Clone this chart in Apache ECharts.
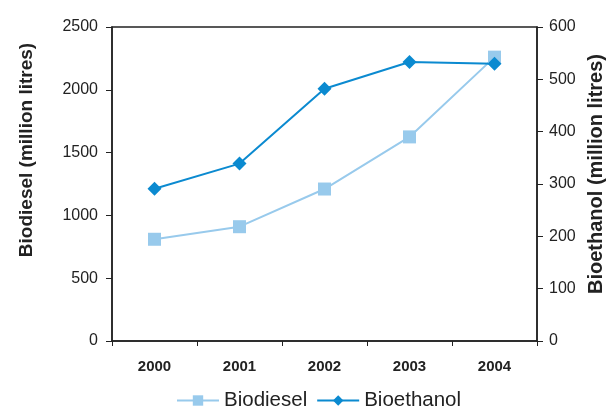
<!DOCTYPE html>
<html><head><meta charset="utf-8">
<script src="https://cdn.jsdelivr.net/npm/echarts@6/dist/echarts.min.js"></script>
<style>html,body{margin:0;padding:0;background:#fff}#c{width:607px;height:414px}</style>
</head><body><div id="c"></div>
<script>
const years = ['2000','2001','2002','2003','2004'];
const biodiesel = [810, 910, 1210, 1625, 2260];
const bioethanol = [291, 339, 482, 533, 530];
const leftTicks = [0, 500, 1000, 1500, 2000, 2500];
const rightTicks = [0, 100, 200, 300, 400, 500, 600];

const chart = echarts.init(document.getElementById('c'));
const font = 'Liberation Sans, Arial, sans-serif';
const axisLine = {show: true, lineStyle: {color: '#222', width: 1.5}};
chart.setOption({
  animation: false,
  textStyle: {fontFamily: font},
  grid: {left: 112, right: 70, top: 27, bottom: 73, show: true, borderColor: '#222', borderWidth: 1.5,
         outerBoundsMode: 'none', containLabel: false},
  legend: {
    top: 390, left: 176, padding: 0, itemWidth: 42, itemHeight: 13, itemGap: 9,
    textStyle: {fontSize: 20.5, color: '#222', fontFamily: font},
    data: ['Biodiesel', 'Bioethanol']
  },
  xAxis: {
    type: 'category', data: years, boundaryGap: true,
    axisLine: axisLine,
    axisTick: {show: true, length: 5, lineStyle: {color: '#222'}},
    axisLabel: {fontWeight: 'bold', fontSize: 15, color: '#222', margin: 18}
  },
  yAxis: [{
    type: 'value', min: leftTicks[0], max: leftTicks[leftTicks.length-1], interval: 500,
    name: 'Biodiesel (million litres)', nameLocation: 'middle', nameGap: 76,
    nameTextStyle: {fontWeight: 'bold', fontSize: 19, color: '#222', padding: [0, 0, 0, 68]},
    axisLine: axisLine, axisTick: {show: true, length: 6, lineStyle: {color: '#222'}},
    axisLabel: {fontSize: 16, color: '#222', margin: 14, formatter: v => String(v)},
    splitLine: {show: false}
  }, {
    type: 'value', position: 'right', min: rightTicks[0], max: rightTicks[rightTicks.length-1], interval: 100,
    name: 'Bioethanol (million litres)', nameLocation: 'middle', nameGap: 46, nameRotate: 90,
    nameTextStyle: {fontWeight: 'bold', fontSize: 20, color: '#222', padding: [0, 0, 0, 20]},
    axisLine: axisLine, axisTick: {show: true, length: 6, lineStyle: {color: '#222'}},
    axisLabel: {fontSize: 16, color: '#222', margin: 12, formatter: v => String(v)},
    splitLine: {show: false}
  }],
  series: [{
    name: 'Biodiesel', type: 'line', yAxisIndex: 0, data: biodiesel,
    symbol: 'rect', symbolSize: 13,
    lineStyle: {color: '#98caec', width: 2}, itemStyle: {color: '#98caec'}
  }, {
    name: 'Bioethanol', type: 'line', yAxisIndex: 1, data: bioethanol,
    symbol: 'diamond', symbolSize: 14,
    lineStyle: {color: '#0b8ad0', width: 2}, itemStyle: {color: '#0b8ad0'}
  }]
});
</script></body></html>
